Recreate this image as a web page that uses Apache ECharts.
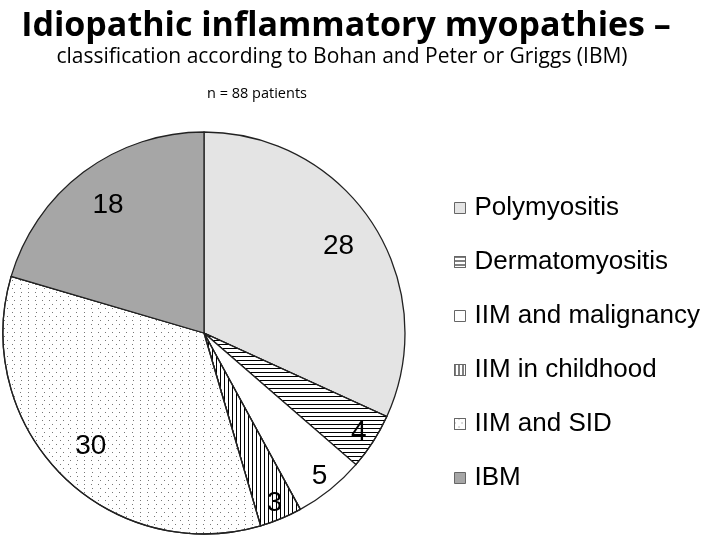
<!DOCTYPE html>
<html>
<head>
<meta charset="utf-8">
<script src="https://cdn.jsdelivr.net/npm/echarts@6/dist/echarts.min.js"></script>
<style>
  html, body { margin: 0; padding: 0; background: #fff; }
  #chart { width: 709px; height: 540px; }
</style>
</head>
<body>
<div id="chart"></div>
<script>
// 数据
const categories = ['Polymyositis', 'Dermatomyositis', 'IIM and malignancy', 'IIM in childhood', 'IIM and SID', 'IBM'];
const patients = [28, 4, 5, 3, 30, 18];

// 填充样式（颜色 + 图案）
const fills = ['#e4e4e4', '#ffffff', '#ffffff', '#ffffff', '#ffffff', '#a6a6a6'];
const decals = [
    'none',
    // 横线
    { symbol: 'rect', symbolSize: 1, color: '#000', dashArrayX: [1, 0], dashArrayY: [1, 3], rotation: 0 },
    'none',
    // 竖线
    { symbol: 'rect', symbolSize: 1, color: '#000', dashArrayX: [1, 3], dashArrayY: [1, 0], rotation: 0 },
    // 点
    { symbol: 'rect', symbolSize: 1, color: '#777', dashArrayX: [[1, 6], [0, 3.5, 1, 2.5]], dashArrayY: [1, 2.5], rotation: 0 },
    'none'
];

const chart = echarts.init(document.getElementById('chart'));

const pieData = categories.map((name, i) => ({
    name: name,
    value: patients[i],
    itemStyle: { color: fills[i], decal: decals[i] === 'none' ? null : decals[i] }
}));

// 标签用的透明饼图
function labelSeries(radius, test) {
    return {
        type: 'pie',
        center: [204, 333],
        radius: radius,
        startAngle: 90,
        silent: true,
        animation: false,
        itemStyle: { color: 'rgba(0,0,0,0)', borderWidth: 0 },
        labelLine: { show: false },
        data: categories.map((name, i) => ({
            name: name,
            value: patients[i],
            label: { show: test(patients[i]) }
        })),
        label: {
            position: 'inside',
            formatter: '{c}',
            color: '#000',
            fontFamily: 'Liberation Sans, Arial, sans-serif',
            fontSize: 28
        }
    };
}

const option = {
    animation: false,
    title: [
        {
            text: 'Idiopathic inflammatory myopathies –',
            left: 341,
            top: 0,
            textAlign: 'center',
            textStyle: { fontFamily: 'Open Sans', fontWeight: 'bold', fontSize: 34, color: '#000', lineHeight: 42 }
        },
        {
            text: 'classification according to Bohan and Peter or Griggs (IBM)',
            left: 337,
            top: 38,
            textAlign: 'center',
            textStyle: { fontFamily: 'Open Sans', fontWeight: 'normal', fontSize: 21, color: '#000', lineHeight: 28 }
        },
        {
            text: 'n = 88 patients',
            left: 252,
            top: 79,
            textAlign: 'center',
            textStyle: { fontFamily: 'Open Sans', fontWeight: 'normal', fontSize: 14.5, color: '#000', lineHeight: 20 }
        }
    ],
    legend: {
        orient: 'vertical',
        left: 454,
        top: 193,
        padding: 0,
        itemWidth: 11,
        itemHeight: 11,
        itemGap: 24,
        selectedMode: false,
        icon: 'rect',
        data: categories,
        itemStyle: { borderColor: '#666', borderWidth: 1 },
        textStyle: {
            fontFamily: 'Liberation Sans, Arial, sans-serif',
            fontSize: 26,
            lineHeight: 30,
            color: '#000',
            padding: [0, 0, 0, 4]
        }
    },
    series: [
        {
            type: 'pie',
            center: [204, 333],
            radius: 201,
            startAngle: 90,
            clockwise: true,
            label: { show: false },
            labelLine: { show: false },
            itemStyle: { borderColor: '#222', borderWidth: 1.3 },
            emphasis: { disabled: true },
            data: pieData
        },
        labelSeries([113, 201], v => v >= 10),
        labelSeries([161, 201], v => v < 10)
    ]
};

chart.setOption(option);
</script>
</body>
</html>
